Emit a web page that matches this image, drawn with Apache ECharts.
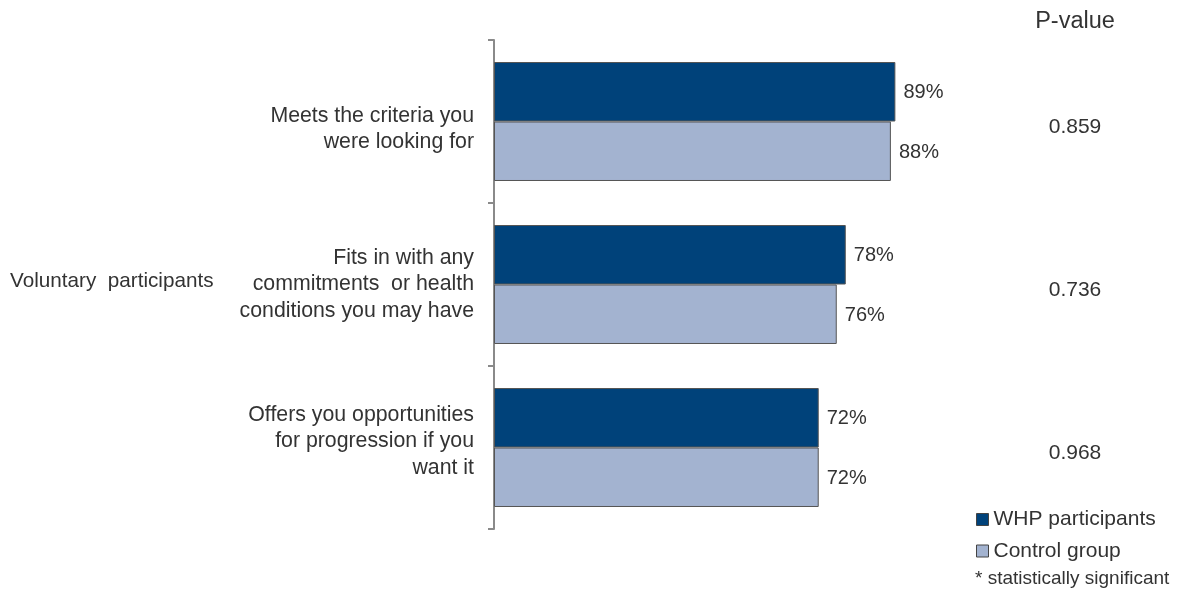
<!DOCTYPE html>
<html>
<head>
<meta charset="utf-8">
<script src="https://cdn.jsdelivr.net/npm/echarts@6/dist/echarts.min.js"></script>
<style>
  html, body { margin: 0; padding: 0; background: #fff; }
  #chart { width: 1177px; height: 592px; }
</style>
</head>
<body>
<div id="chart"></div>
<script>
// Survey items (top to bottom)
const categories = [
  'Meets the criteria you\nwere looking for',
  'Fits in with any\ncommitments  or health\nconditions you may have',
  'Offers you opportunities\nfor progression if you\nwant it'
];
const whpValues = [89, 78, 72];
const controlValues = [88, 76, 72];
const pValues = ['0.859', '0.736', '0.968'];
const seriesNames = ['WHP participants', 'Control group'];

const FONT = '"Liberation Sans", Arial, sans-serif';
const TEXT = '#333333';
const gridTop = 40, gridHeight = 489;

const chart = echarts.init(document.getElementById('chart'));

const band = gridHeight / categories.length;
const pValueTexts = pValues.map((p, i) => ({
  type: 'text',
  x: 1075,
  y: gridTop + band * (i + 0.5) + 5.5,
  style: {
    text: p, font: '21px ' + FONT, fill: TEXT,
    textAlign: 'center', textVerticalAlign: 'middle'
  }
}));

const barLabel = {
  show: true,
  position: 'right',
  distance: 8,
  offset: [0, 1],
  formatter: '{c}%',
  fontFamily: FONT,
  fontSize: 20,
  color: TEXT
};

// Category label lines, with a spacer line above or below to nudge
// each block within its band.
const spacerBefore = ['s15', null, null];
const spacerAfter = [null, null, 's12'];
function categoryLabel(value, index) {
  const lines = value.split('\n').map(line => '{n|' + line + '}');
  if (spacerBefore[index]) lines.unshift('{' + spacerBefore[index] + '|\u00a0}');
  if (spacerAfter[index]) lines.push('{' + spacerAfter[index] + '|\u00a0}');
  return lines.join('\n');
}

const labelRich = {
  n: { fontSize: 21.3, lineHeight: 26.5, color: TEXT, fontFamily: FONT },
  s12: { fontSize: 2, lineHeight: 12 },
  s15: { fontSize: 2, lineHeight: 15 }
};

chart.setOption({
  animation: false,
  textStyle: { fontFamily: FONT },
  grid: { left: 494, top: gridTop, width: 451, height: gridHeight },
  xAxis: {
    type: 'value', min: 0, max: 100, show: false
  },
  yAxis: {
    type: 'category',
    inverse: true,
    data: categories,
    axisLine: { show: true, lineStyle: { color: '#8a8a8a', width: 2 } },
    axisTick: { show: true, length: 6, lineStyle: { color: '#8a8a8a', width: 2 } },
    axisLabel: {
      margin: 20, fontSize: 21.3, lineHeight: 26.5, color: TEXT,
      fontFamily: FONT, align: 'right',
      formatter: categoryLabel,
      rich: labelRich
    }
  },
  legend: {
    orient: 'vertical',
    left: 976, top: 509,
    padding: 0,
    itemWidth: 12, itemHeight: 12, itemGap: 10.5,
    icon: 'rect',
    textStyle: { fontSize: 21, color: TEXT, fontFamily: FONT },
    itemStyle: { borderColor: '#444', borderWidth: 1 },
    data: seriesNames
  },
  series: [
    {
      name: seriesNames[0], type: 'bar', data: whpValues,
      barGap: '0%', barCategoryGap: '27%',
      itemStyle: { color: '#00427a', borderColor: '#555', borderWidth: 1 },
      label: barLabel
    },
    {
      name: seriesNames[1], type: 'bar', data: controlValues,
      itemStyle: { color: '#a3b3d0', borderColor: '#555', borderWidth: 1 },
      label: barLabel
    }
  ],
  graphic: [
    {
      type: 'text', x: 10, y: 281,
      style: {
        text: 'Voluntary  participants', font: '20.7px ' + FONT, fill: TEXT,
        textVerticalAlign: 'middle'
      }
    },
    {
      type: 'text', x: 1075, y: 22,
      style: {
        text: 'P-value', font: '23.5px ' + FONT, fill: TEXT,
        textAlign: 'center', textVerticalAlign: 'middle'
      }
    },
    {
      type: 'text', x: 975, y: 579,
      style: {
        text: '* statistically significant', font: '19px ' + FONT, fill: TEXT,
        textVerticalAlign: 'middle'
      }
    }
  ].concat(pValueTexts)
});
</script>
</body>
</html>
